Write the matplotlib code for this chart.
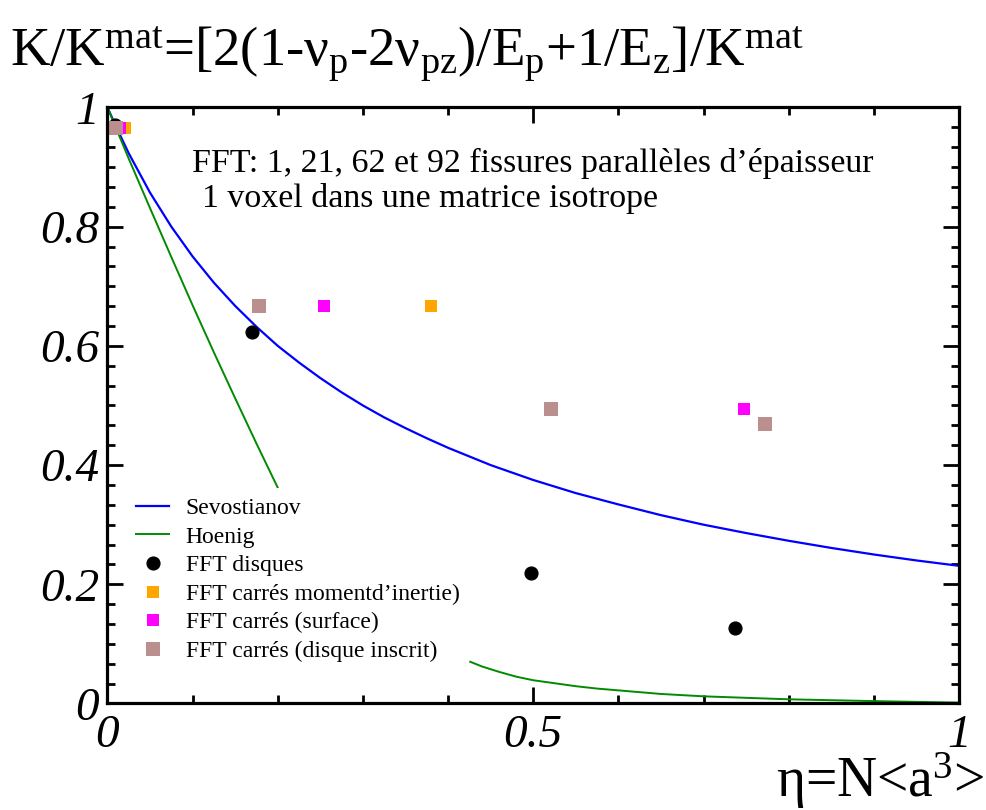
import numpy as np
import matplotlib
matplotlib.use("Agg")
import matplotlib.pyplot as plt
from matplotlib.ticker import MultipleLocator, AutoMinorLocator

# --- Data ---
sev_eta = [0, 0.01, 0.025, 0.05, 0.075, 0.1, 0.125, 0.15, 0.175, 0.2, 0.225, 0.25,
           0.275, 0.3, 0.325, 0.35, 0.375, 0.4, 0.45, 0.5, 0.55, 0.6, 0.65, 0.7,
           0.75, 0.8, 0.85, 0.9, 0.95, 1.0]
sev_k = [1.0, 0.968, 0.923, 0.857, 0.800, 0.750, 0.706, 0.667, 0.632, 0.600, 0.572, 0.546,
         0.522, 0.500, 0.480, 0.462, 0.445, 0.429, 0.400, 0.375, 0.353, 0.334, 0.316, 0.300,
         0.286, 0.273, 0.261, 0.250, 0.240, 0.231]

# Hoenig: the middle part is hidden behind the legend in the reference
hoe_eta = [0, 0.025, 0.05, 0.075, 0.1, 0.125, 0.15, 0.175, 0.2, np.nan,
           0.426, 0.44, 0.46, 0.48, 0.5, 0.525, 0.55, 0.575, 0.6, 0.65, 0.7,
           0.75, 0.8, 0.85, 0.9, 0.95, 1.0]
hoe_k = [1.0, 0.914, 0.831, 0.749, 0.668, 0.589, 0.512, 0.436, 0.362, np.nan,
         0.070, 0.062, 0.053, 0.045, 0.039, 0.034, 0.029, 0.025, 0.022, 0.016, 0.012,
         0.0095, 0.007, 0.0055, 0.004, 0.0027, 0.0015]

disq_eta = [0.0088, 0.1697, 0.497, 0.7366]
disq_k = [0.971, 0.624, 0.2195, 0.1262]

inertie_eta = [0.0202, 0.3799]
inertie_k = [0.965, 0.667]

surf_eta = [0.0147, 0.2539, 0.7472]
surf_k = [0.965, 0.667, 0.4936]

inscrit_eta = [0.0103, 0.1776, 0.5205, 0.7718]
inscrit_k = [0.965, 0.667, 0.4936, 0.469]

xticks = [0, 0.5, 1]
xticklabels = ["0", "0.5", "1"]
yticks = [0, 0.2, 0.4, 0.6, 0.8, 1]
yticklabels = ["0", "0.2", "0.4", "0.6", "0.8", "1"]

# --- Style ---
plt.rcParams['font.family'] = ['Liberation Serif', 'DejaVu Serif']
plt.rcParams['mathtext.fontset'] = 'custom'
plt.rcParams['mathtext.rm'] = 'Liberation Serif'
plt.rcParams['mathtext.it'] = 'Liberation Serif:italic'

fig = plt.figure(figsize=(9.87, 8.10), dpi=100)
ax = fig.add_axes([0.1089, 0.1315, 0.8627, 0.7358])

ax.plot(sev_eta, sev_k, color="#0000ff", lw=1.6, label="Sevostianov")
ax.plot(hoe_eta, hoe_k, color="#008b00", lw=1.4, label="Hoenig")
ax.plot(disq_eta, disq_k, "o", color="black", ms=9.2, ls="none", label="FFT disques")
ax.plot(inertie_eta, inertie_k, "s", color="#ffa500", ms=8.6, mew=0, ls="none",
        label="FFT carrés momentd\u2019inertie)")
ax.plot(surf_eta, surf_k, "s", color="#ff00ff", ms=8.6, mew=0, ls="none",
        label="FFT carrés (surface)")
ax.plot(inscrit_eta, inscrit_k, "s", color="#bc8f8f", ms=10, mew=0, ls="none",
        label="FFT carrés (disque inscrit)")

ax.set_xlim(0, 1)
ax.set_ylim(0, 1)
ax.set_xticks(xticks, labels=xticklabels)
ax.set_yticks(yticks, labels=yticklabels)
ax.xaxis.set_minor_locator(MultipleLocator(0.1))
ax.yaxis.set_minor_locator(AutoMinorLocator(6))

for s in ax.spines.values():
    s.set_linewidth(2.3)
ax.tick_params(which="both", direction="in", top=True, right=True, width=2)
ax.tick_params(which="major", length=11.3)
ax.tick_params(which="minor", length=5.5)
ax.tick_params(axis="y", which="major", pad=6)
ax.tick_params(axis="x", which="major", pad=8)
for lab in ax.get_xticklabels() + ax.get_yticklabels():
    lab.set_fontsize(34)
    lab.set_fontstyle("italic")

leg = ax.legend(loc="upper left", bbox_to_anchor=(0.0224, 0.3616), borderaxespad=0,
                frameon=True, facecolor="white", edgecolor="none", framealpha=1,
                fancybox=False, fontsize=17, handlelength=1.4, handletextpad=0.7,
                labelspacing=0.3, borderpad=0.4, numpoints=1)

ax.text(0.0989, 0.892, "FFT: 1, 21, 62 et 92 fissures parallèles d\u2019épaisseur",
        transform=ax.transAxes, fontsize=24.4, va="baseline", ha="left")
ax.text(0.1106, 0.8336, "1 voxel dans une matrice isotrope",
        transform=ax.transAxes, fontsize=24.4, va="baseline", ha="left")

fig.text(10 / 987, 1 - 65 / 810,
         r"K/K$^{\mathrm{mat}}$=[2(1-ν$_{\mathrm{p}}$-2ν$_{\mathrm{pz}}$)/E$_{\mathrm{p}}$"
         r"+1/E$_{\mathrm{z}}$]/K$^{\mathrm{mat}}$",
         fontsize=39.4, ha="left", va="baseline")
fig.text(984 / 987, 1 - 797 / 810, r"η=N<a$^{3}$>", fontsize=40, ha="right", va="baseline")

fig.savefig("out.png", dpi=100)
